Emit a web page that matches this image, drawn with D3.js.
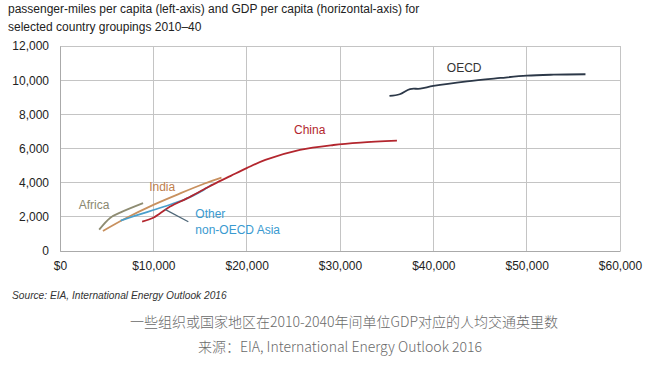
<!DOCTYPE html>
<html><head><meta charset="utf-8">
<script src="https://cdn.jsdelivr.net/npm/d3@7"></script>
<style>
html,body{margin:0;padding:0;background:#fff;}
svg{display:block;}
</style></head>
<body>
<svg id="c" width="662" height="371"></svg>
<script>
// ---- data ----
const titleLines = ["passenger-miles per capita (left-axis) and GDP per capita (horizontal-axis) for", "selected country groupings 2010\u201340"];
const xTicks = [0, 10000, 20000, 30000, 40000, 50000, 60000];
const yTicks = [0, 2000, 4000, 6000, 8000, 10000, 12000];

const oecdGdp = [35300, 36400, 37500, 38600, 40000, 43600, 47200, 50000, 52900, 56300];
const oecdPm  = [9075, 9175, 9480, 9500, 9660, 9935, 10130, 10265, 10320, 10345];

const chinaGdp = [8800, 10000, 10700, 11800, 13600, 15400, 16800, 18300, 20000, 22000, 25700, 29300, 32200, 36100];
const chinaPm  = [1720, 1950, 2200, 2600, 3080, 3600, 4000, 4400, 4850, 5330, 5915, 6205, 6345, 6460];

const indiaGdp = [4600, 7000, 10000, 13000, 15500, 17300];
const indiaPm  = [1170, 1900, 2700, 3400, 3950, 4300];

const africaGdp = [4200, 5400, 6500, 8900];
const africaPm  = [1250, 1950, 2260, 2800];

const asiaGdp = [6500, 8000, 10000, 12000, 13500, 15300, 16300];
const asiaPm  = [1780, 2050, 2400, 2750, 3050, 3550, 3900];

const seriesNames = ["OECD", "China", "India", "Africa", "Other non-OECD Asia"];
const seriesColors = ["#2c3848", "#b3262e", "#c8905e", "#8e8c72", "#4a9fcc"];

const source = "Source:  EIA, International Energy Outlook 2016";
const caption1 = "\u4e00\u4e9b\u7ec4\u7ec7\u6216\u56fd\u5bb6\u5730\u533a\u57282010-2040\u5e74\u95f4\u5355\u4f4dGDP\u5bf9\u5e94\u7684\u4eba\u5747\u4ea4\u901a\u82f1\u91cc\u6570";
const caption2 = "\u6765\u6e90\uff1aEIA, International Energy Outlook 2016";

// ---- chart ----
const svg = d3.select("#c");
const x = d3.scaleLinear().domain([0, 60000]).range([60, 620]);
const y = d3.scaleLinear().domain([0, 12000]).range([251, 46]);
const font = "'Liberation Sans', Arial, sans-serif";

svg.append("g").selectAll("text").data(titleLines).join("text")
  .attr("x", 8).attr("y", (d, i) => 13 + i * 17.5)
  .attr("font-family", font).attr("font-size", 12).attr("fill", "#222").text(d => d);

// grid
const grid = svg.append("g");
grid.selectAll("line.h").data(yTicks).join("line").attr("class", "h")
  .attr("x1", x(0)).attr("x2", x(60000)).attr("y1", d => y(d)).attr("y2", d => y(d))
  .attr("stroke", "#c4c4c4").attr("stroke-width", 1).attr("shape-rendering", "crispEdges");
grid.selectAll("line.v").data(xTicks).join("line").attr("class", "v")
  .attr("x1", d => x(d)).attr("x2", d => x(d)).attr("y1", y(0)).attr("y2", y(12000))
  .attr("stroke", "#c4c4c4").attr("stroke-width", 1).attr("shape-rendering", "crispEdges");

// axes
const yAxis = svg.append("g").attr("transform", `translate(${x(0)},0)`)
  .call(d3.axisLeft(y).tickValues(yTicks).tickSize(0).tickPadding(11).tickFormat(d3.format(",")));
yAxis.select(".domain").attr("stroke", "#aaa");
yAxis.selectAll("text").attr("font-family", font).attr("font-size", 12).attr("fill", "#222");

const xAxis = svg.append("g").attr("transform", `translate(0,${y(0)})`)
  .call(d3.axisBottom(x).tickValues(xTicks).tickSize(0).tickPadding(10).tickFormat(d => "$" + d3.format(",")(d)));
xAxis.select(".domain").attr("stroke", "#aaa");
xAxis.selectAll("text").attr("font-family", font).attr("font-size", 12).attr("fill", "#222");

// series
const allSeries = [
  [oecdGdp, oecdPm], [chinaGdp, chinaPm], [indiaGdp, indiaPm], [africaGdp, africaPm], [asiaGdp, asiaPm]
];
const line = d3.line().x(d => x(d[0])).y(d => y(d[1])).curve(d3.curveCatmullRom.alpha(0.5));
const drawOrder = [3, 2, 4, 1, 0];
drawOrder.forEach(i => {
  const [gx, py] = allSeries[i];
  svg.append("path").datum(gx.map((g, k) => [g, py[k]]))
    .attr("d", line).attr("fill", "none")
    .attr("stroke", seriesColors[i]).attr("stroke-width", 1.8).attr("stroke-linejoin", "round");
});

// pointer for Other non-OECD Asia
const pointerGdp = [11250, 13750];
const pointerPm = [2440, 1715];
svg.append("line")
  .attr("x1", x(pointerGdp[0])).attr("y1", y(pointerPm[0]))
  .attr("x2", x(pointerGdp[1])).attr("y2", y(pointerPm[1]))
  .attr("stroke", "#4f6778").attr("stroke-width", 1.3);

// labels
const labelGdp = [43300, 26750, 10950, 3650, 14500];
const labelPm = [10710, 7080, 3750, 2700, 2170];
const labelAnchor = ["middle", "middle", "middle", "middle", "start"];
const labelColors = ["#333", "#b3262e", "#c0804e", "#8a8870", "#3a9ad0"];
seriesNames.forEach((name, i) => {
  const t = svg.append("text").attr("x", x(labelGdp[i])).attr("y", y(labelPm[i]))
    .attr("dy", "0.35em").attr("text-anchor", labelAnchor[i])
    .attr("font-family", font).attr("font-size", 12).attr("fill", labelColors[i]);
  if (i === 4) {
    t.append("tspan").attr("x", x(labelGdp[i])).text("Other");
    t.append("tspan").attr("x", x(labelGdp[i])).attr("dy", "1.35em").text("non-OECD Asia");
  } else t.text(name);
});

// source
svg.append("text").attr("x", 12).attr("y", 299)
  .attr("font-family", font).attr("font-size", 10.2).attr("font-style", "italic").attr("fill", "#333")
  .text(source);

// captions
svg.append("text").attr("x", 344).attr("y", 327).attr("text-anchor", "middle")
  .attr("font-family", "'Noto Sans CJK SC', sans-serif").attr("font-size", 14).attr("font-weight", 300).attr("fill", "#6a6a6a")
  .text(caption1);
svg.append("text").attr("x", 340).attr("y", 352).attr("text-anchor", "middle")
  .attr("font-family", "'Noto Sans CJK SC', sans-serif").attr("font-size", 14).attr("font-weight", 300).attr("fill", "#6a6a6a")
  .text(caption2);
</script>
</body></html>
